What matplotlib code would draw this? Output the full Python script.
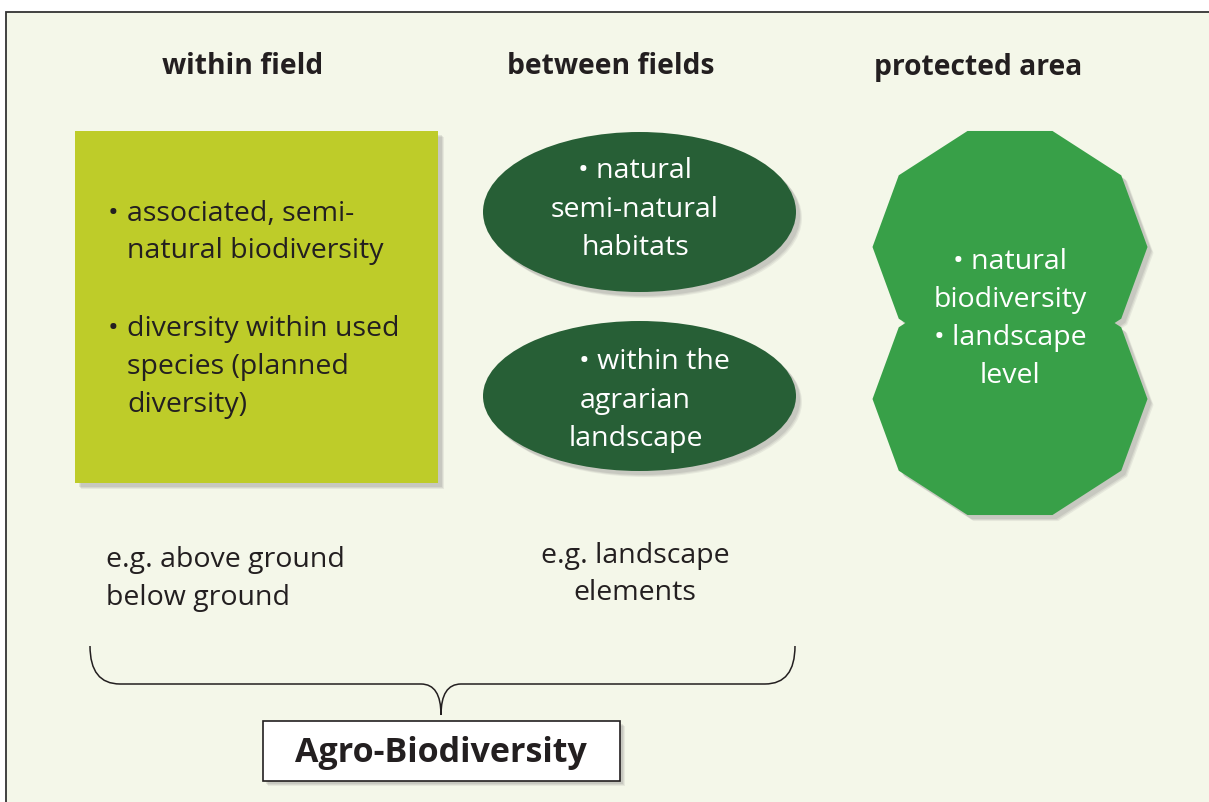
import matplotlib.pyplot as plt
import numpy as np
from matplotlib.patches import Rectangle, Ellipse, Polygon
from matplotlib.path import Path
from matplotlib.patches import PathPatch

# ------------------ Content ------------------
headers = ["within field", "between fields", "protected area"]
header_x = [243, 611, 978]

square_lines = ["associated, semi-", "natural biodiversity",
                "diversity within used", "species (planned", "diversity)"]
square_bullets = [True, False, True, False, False]
square_y = [214, 251, 329, 367, 405]

ellipse1_lines = ["\u2022 natural", "semi-natural", "habitats"]
ellipse1_x = [635, 635, 635]
ellipse1_y = [171, 210, 248]
ellipse2_lines = ["\u2022 within the", "agrarian", "landscape"]
ellipse2_x = [654, 635, 636]
ellipse2_y = [362, 401, 439]

poly_lines = ["\u2022 natural", "biodiversity", "\u2022 landscape", "level"]
poly_y = [262, 300, 338, 376]

below_left = ["e.g. above ground", "below ground"]
below_left_y = [560, 598]
below_mid = ["e.g. landscape", "elements"]
below_mid_y = [556, 593]

bottom_label = "Agro-Biodiversity"

# ------------------ Style ------------------
BG = "#F4F7E9"
DARK = "#231F20"
LIME = "#BECC29"
DKGREEN = "#275F36"
GREEN = "#38A048"
FONT = "Open Sans"
FS = 20.5

fig = plt.figure(figsize=(12.09, 8.03), dpi=100)
fig.patch.set_facecolor("white")
ax = fig.add_axes([0, 0, 1, 1])
ax.set_xlim(0, 1209)
ax.set_ylim(803, 0)
ax.axis("off")

# panel background with frame
ax.add_patch(Rectangle((6, 13), 1220, 800, facecolor=BG, edgecolor="#333333", lw=1.3, zorder=0))


def shadow(make, dx=5, dy=5):
    # soft drop shadow from a few offset copies
    for k, a in [(1.0, 0.10), (0.8, 0.12), (0.6, 0.14)]:
        p = make(dx * k + 1, dy * k + 1)
        p.set_facecolor("#6b6b6b")
        p.set_alpha(a)
        p.set_edgecolor("none")
        p.set_zorder(1)
        ax.add_patch(p)


# ------------------ Headers ------------------
for t, x in zip(headers, header_x):
    ax.text(x, 67, t, ha="center", va="center", fontsize=20.3, fontweight="bold",
            family=FONT, color=DARK)

# ------------------ Square ------------------
sq = (75, 132, 363, 352)
shadow(lambda dx, dy: Rectangle((sq[0] + dx, sq[1] + dy), sq[2], sq[3]))
ax.add_patch(Rectangle((sq[0], sq[1]), sq[2], sq[3], facecolor=LIME, edgecolor="none", zorder=2))
for t, b, y in zip(square_lines, square_bullets, square_y):
    if b:
        ax.text(108, y, "\u2022", ha="left", va="center", fontsize=FS, family=FONT, color=DARK, zorder=3)
    ax.text(127, y, t, ha="left", va="center", fontsize=FS, family=FONT, color=DARK, zorder=3)

# ------------------ Ellipses ------------------
for cy, h in [(213, 160), (397, 150)]:
    shadow(lambda dx, dy, cy=cy, h=h: Ellipse((639.5 + dx, cy + dy), 313, h))
    ax.add_patch(Ellipse((639.5, cy), 313, h, facecolor=DKGREEN, edgecolor="none", zorder=2))
for lines, xs, ys in [(ellipse1_lines, ellipse1_x, ellipse1_y), (ellipse2_lines, ellipse2_x, ellipse2_y)]:
    for t, x, y in zip(lines, xs, ys):
        ax.text(x, y, t, ha="center", va="center", fontsize=FS, family=FONT, color="white", zorder=3)

# ------------------ Decagons ------------------
ang = np.deg2rad(72 + 36 * np.arange(10))


def decagon(cx, cy, rx=137.5, ry=122):
    return np.column_stack([cx + rx * np.cos(ang), cy - ry * np.sin(ang)])


for cy in [248, 400]:
    shadow(lambda dx, dy, cy=cy: Polygon(decagon(1010 + dx, cy + dy)))
for cy in [248, 400]:
    ax.add_patch(Polygon(decagon(1010, cy), facecolor=GREEN, edgecolor="none", zorder=2))
for t, y in zip(poly_lines, poly_y):
    ax.text(1010, y, t, ha="center", va="center", fontsize=FS, family=FONT, color="white", zorder=3)

# ------------------ Lower texts ------------------
for t, y in zip(below_left, below_left_y):
    ax.text(106, y, t, ha="left", va="center", fontsize=FS, family=FONT, color=DARK)
for t, y in zip(below_mid, below_mid_y):
    ax.text(635, y, t, ha="center", va="center", fontsize=FS, family=FONT, color=DARK)

# ------------------ Brace ------------------
xl, xr, xm = 90, 795, 441
ytop, yh, ytip = 647, 685, 716
verts = [(xl, ytop), (xl, yh), (xl + 30, yh),
         (xm - 20, yh), (xm, yh), (xm, ytip),
         (xm, yh), (xm + 20, yh),
         (xr - 30, yh), (xr, yh), (xr, ytop)]
codes = [Path.MOVETO, Path.CURVE3, Path.CURVE3,
         Path.LINETO, Path.CURVE3, Path.CURVE3,
         Path.CURVE3, Path.CURVE3,
         Path.LINETO, Path.CURVE3, Path.CURVE3]
ax.add_patch(PathPatch(Path(verts, codes), facecolor="none", edgecolor=DARK, lw=1.1, zorder=2))

# ------------------ Bottom label box ------------------
bx = (263, 722, 357, 60)
shadow(lambda dx, dy: Rectangle((bx[0] + dx, bx[1] + dy), bx[2], bx[3]), 4, 4)
ax.add_patch(Rectangle((bx[0], bx[1]), bx[2], bx[3], facecolor="white", edgecolor=DARK, lw=1.2, zorder=2))
ax.text(441, 753, bottom_label, ha="center", va="center", fontsize=24.5, fontweight="bold",
        family=FONT, color=DARK, zorder=3)

fig.savefig("out.png", dpi=100, facecolor=fig.get_facecolor())
